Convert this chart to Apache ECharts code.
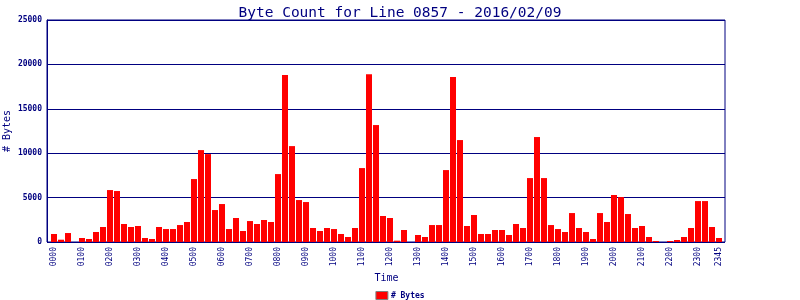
<!DOCTYPE html>
<html>
<head>
<meta charset="utf-8">
<script src="https://cdn.jsdelivr.net/npm/echarts@6/dist/echarts.min.js"></script>
<style>html,body{margin:0;padding:0;background:#fff}#c{width:800px;height:300px}</style>
</head>
<body>
<div id="c"></div>
<script>
var titleText = 'Byte Count for Line 0857 - 2016/02/09';
var seriesName = '# Bytes';
var times = [
 '0000','0015','0030','0045','0100','0115','0130','0145',
 '0200','0215','0230','0245','0300','0315','0330','0345',
 '0400','0415','0430','0445','0500','0515','0530','0545',
 '0600','0615','0630','0645','0700','0715','0730','0745',
 '0800','0815','0830','0845','0900','0915','0930','0945',
 '1000','1015','1030','1045','1100','1115','1130','1145',
 '1200','1215','1230','1245','1300','1315','1330','1345',
 '1400','1415','1430','1445','1500','1515','1530','1545',
 '1600','1615','1630','1645','1700','1715','1730','1745',
 '1800','1815','1830','1845','1900','1915','1930','1945',
 '2000','2015','2030','2045','2100','2115','2130','2145',
 '2200','2215','2230','2245','2300','2315','2330','2345'
];
var bytes = [
 900, 260, 1010, 0, 450, 340, 1125, 1690,
 5850, 5740, 2025, 1690, 1800, 450, 340, 1690,
 1460, 1460, 1910, 2250, 7090, 10350, 9900, 3600,
 4275, 1460, 2700, 1240, 2360, 2025, 2475, 2250,
 7650, 18800, 10800, 4725, 4500, 1575, 1240, 1575,
 1460, 900, 560, 1575, 8325, 18900, 13170, 2925,
 2700, 150, 1350, 0, 790, 560, 1910, 1910,
 8100, 18580, 11480, 1800, 3040, 900, 900, 1350,
 1350, 790, 2025, 1575, 7200, 11820, 7200, 1910,
 1460, 1125, 3260, 1575, 1125, 340, 3260, 2250,
 5290, 5060, 3150, 1575, 1800, 560, 112, 0,
 112, 225, 560, 1575, 4610, 4610, 1690, 450
];
var yTicks = [0, 5000, 10000, 15000, 20000, 25000];

var navy = '#000080';
var mono = 'DejaVu Sans Mono';
var chart = echarts.init(document.getElementById('c'), null, {renderer: 'canvas'});
chart.setOption({
  animation: false,
  backgroundColor: '#ffffff',
  title: {
    text: titleText, left: 'center', top: 1,
    textStyle: {color: navy, fontFamily: mono, fontSize: 14.5, fontWeight: 'normal'}
  },
  legend: {
    data: [seriesName], left: 'center', top: 286,
    icon: 'rect', itemWidth: 12, itemHeight: 8, itemGap: 4,
    textStyle: {color: navy, fontFamily: mono, fontSize: 8, fontWeight: 'bold', padding: [0,0,0,-2]},
    itemStyle: {borderColor: '#808080', borderWidth: 1}
  },
  grid: [
    {left: 47, top: 20, width: 678, height: 222, show: true, borderColor: navy, borderWidth: 1,
     backgroundColor: 'transparent', containLabel: false, outerBoundsMode: 'none'},
    {left: 50.5, top: 20, width: 672, height: 222, containLabel: false, outerBoundsMode: 'none'}
  ],
  xAxis: [
    {gridIndex: 0, type: 'value', show: false, min: 0, max: 1},
    {
      gridIndex: 1, type: 'category', data: times, boundaryGap: true,
      name: 'Time', nameLocation: 'middle', nameGap: 31, nameMoveOverlap: false,
      nameTextStyle: {color: navy, fontFamily: mono, fontSize: 10},
      axisLine: {show: false}, axisTick: {show: false},
      axisLabel: {
        rotate: 90, margin: 5, color: navy, fontFamily: mono, fontSize: 8,
        interval: function (i) { return i % 4 === 0 || i === times.length - 1; }
      }
    }
  ],
  yAxis: [
    {
      gridIndex: 0, type: 'value', min: yTicks[0], max: yTicks[yTicks.length - 1], interval: 5000,
      name: '# Bytes', nameLocation: 'middle', nameGap: 35, nameMoveOverlap: false,
      nameTextStyle: {color: navy, fontFamily: mono, fontSize: 10},
      axisLine: {show: true, lineStyle: {color: navy, width: 1}},
      axisTick: {show: false},
      splitLine: {show: true, lineStyle: {color: navy, width: 1}},
      axisLabel: {color: navy, fontFamily: mono, fontSize: 8, fontWeight: 'bold', margin: 5,
        showMinLabel: true, showMaxLabel: true,
        formatter: function (v) { return String(v); }}
    },
    {gridIndex: 1, type: 'value', min: yTicks[0], max: yTicks[yTicks.length - 1], show: false}
  ],
  series: [{
    name: seriesName, type: 'bar', xAxisIndex: 1, yAxisIndex: 1,
    data: bytes, barWidth: 6,
    itemStyle: {color: '#ff0000'}
  }]
});
</script>
</body>
</html>
